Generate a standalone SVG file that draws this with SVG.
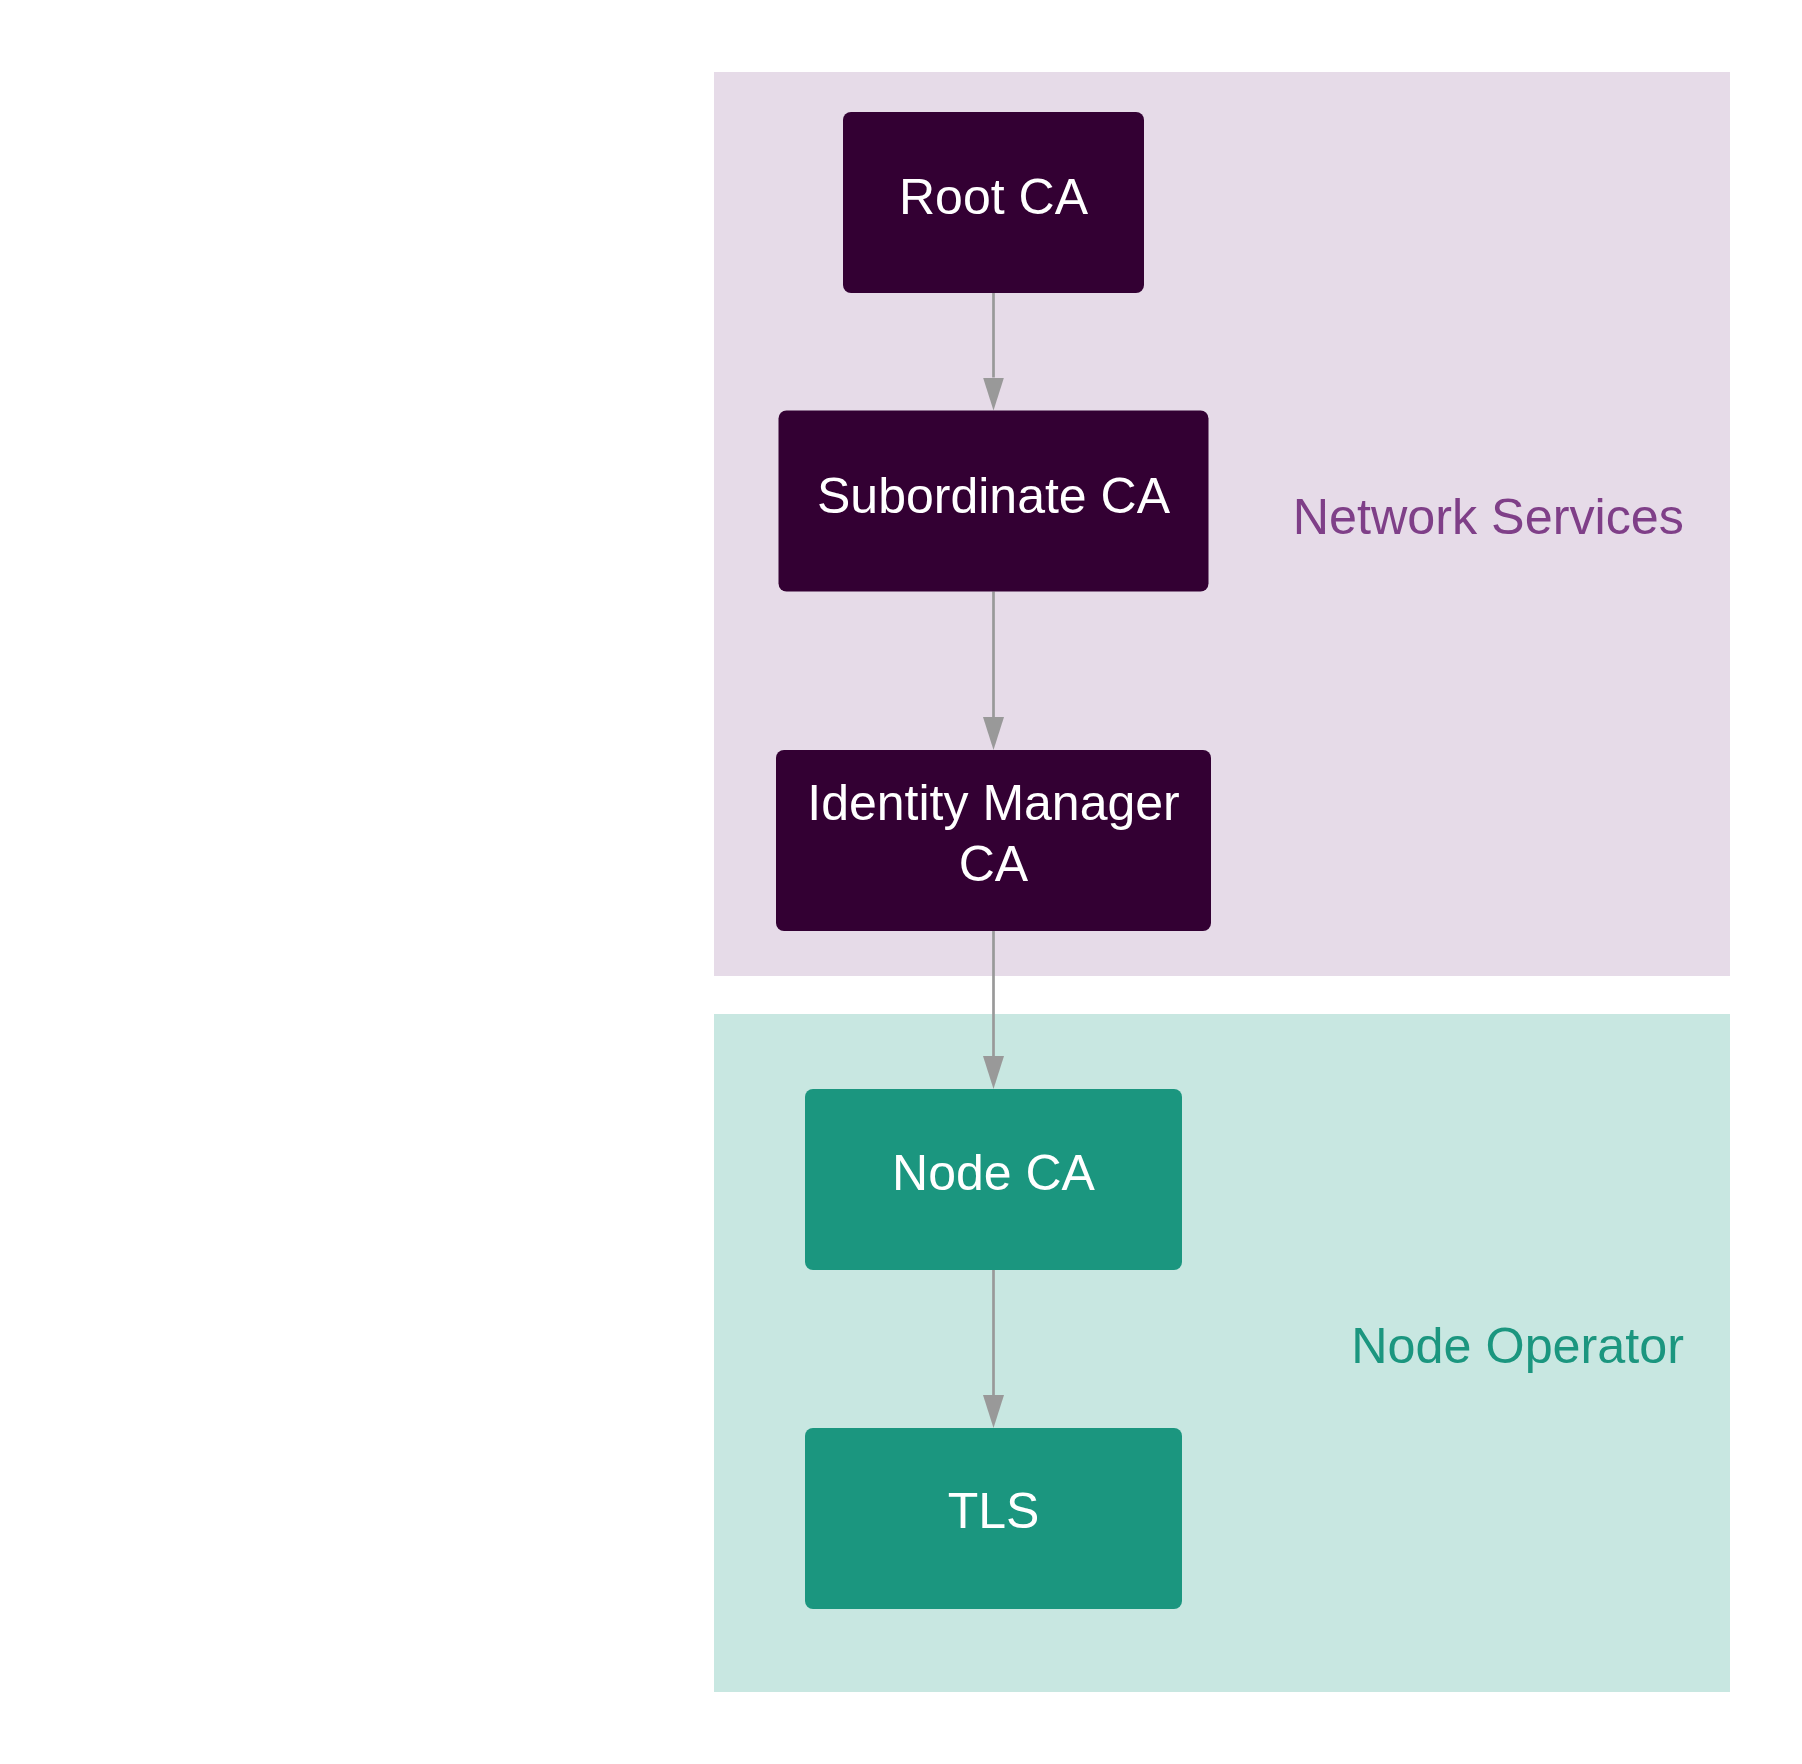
<svg xmlns="http://www.w3.org/2000/svg" width="1802" height="1764" viewBox="0 0 1802 1764">
  <style>
    .ns-bg { fill: #E6DBE8; }
    .no-bg { fill: #C8E7E1; }
    .ns-node rect { fill: #330033; }
    .no-node rect { fill: #1B967F; }
    .node text { fill: #FFFFFF; font-family: "Liberation Sans", Arial, sans-serif; font-size: 50px; text-anchor: middle; }
    .cl-label { font-family: "Liberation Sans", Arial, sans-serif; font-size: 50.3px; text-anchor: end; }
    .ns-label { fill: #7F3F88; }
    .no-label { fill: #1B967F; }
    .edge { stroke: #999999; stroke-width: 2.7; fill: none; }
  </style>
  <defs>
    <marker id="arrow" markerUnits="userSpaceOnUse" markerWidth="34" markerHeight="22" viewBox="0 0 34 22" refX="0" refY="11" orient="auto">
      <path d="M0,0.5 L33,11 L0,21.5 z" fill="#999999"/>
    </marker>
  </defs>
  <rect width="1802" height="1764" fill="#FFFFFF"/>

  <g id="cluster-network-services">
    <rect class="ns-bg" x="714" y="72" width="1016" height="904"/>
    <text class="cl-label ns-label" x="1684" y="534">Network Services</text>
  </g>
  <g id="cluster-node-operator">
    <rect class="no-bg" x="714" y="1014" width="1016" height="678"/>
    <text class="cl-label no-label" x="1684" y="1363">Node Operator</text>
  </g>

  <g id="connectors">
    <path class="edge" d="M993.5,293 L993.5,377.5" marker-end="url(#arrow)"/>
    <path class="edge" d="M993.5,591.5 L993.5,717" marker-end="url(#arrow)"/>
    <path class="edge" d="M993.5,931 L993.5,1056" marker-end="url(#arrow)"/>
    <path class="edge" d="M993.5,1270 L993.5,1395" marker-end="url(#arrow)"/>
  </g>

  <g id="node-root-ca" class="node ns-node">
    <rect x="843" y="112" width="301" height="181" rx="8"/>
    <text x="993.5" y="214">Root CA</text>
  </g>
  <g id="node-subordinate-ca" class="node ns-node">
    <rect x="778.5" y="410.5" width="430" height="181" rx="8"/>
    <text x="993.5" y="513">Subordinate CA</text>
  </g>
  <g id="node-identity-manager-ca" class="node ns-node">
    <rect x="776" y="750" width="435" height="181" rx="8"/>
    <text x="993.5" y="820">Identity Manager</text>
    <text x="993.5" y="881">CA</text>
  </g>
  <g id="node-node-ca" class="node no-node">
    <rect x="805" y="1089" width="377" height="181" rx="8"/>
    <text x="993.5" y="1190">Node CA</text>
  </g>
  <g id="node-tls" class="node no-node">
    <rect x="805" y="1428" width="377" height="181" rx="8"/>
    <text x="993.5" y="1528">TLS</text>
  </g>
</svg>
